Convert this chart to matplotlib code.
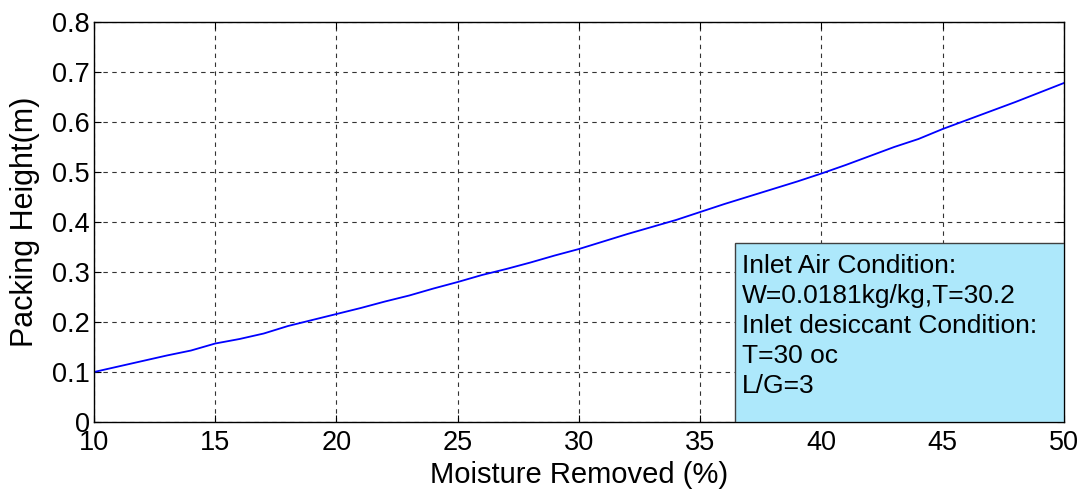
import numpy as np
import matplotlib.pyplot as plt
from matplotlib.patches import Rectangle

# data
moisture = [10, 11, 12, 13, 14, 15, 16, 17, 18, 19, 20, 21, 22, 23, 24, 25, 26, 27, 28, 29, 30,
            31, 32, 33, 34, 35, 36, 37, 38, 39, 40, 41, 42, 43, 44, 45, 46, 47, 48, 49, 50]
height = [0.100, 0.111, 0.122, 0.133, 0.143, 0.157, 0.166, 0.177, 0.192, 0.204, 0.216,
          0.228, 0.241, 0.253, 0.267, 0.280, 0.294, 0.306, 0.319, 0.333, 0.346,
          0.361, 0.376, 0.390, 0.404, 0.420, 0.436, 0.451, 0.466, 0.481, 0.497,
          0.514, 0.532, 0.550, 0.566, 0.586, 0.604, 0.622, 0.640, 0.659, 0.678]

xticks = [10, 15, 20, 25, 30, 35, 40, 45, 50]
yticks = [0, 0.1, 0.2, 0.3, 0.4, 0.5, 0.6, 0.7, 0.8]
box_lines = ["Inlet Air Condition:", "W=0.0181kg/kg,T=30.2",
             "Inlet desiccant Condition:", "T=30 oc", "L/G=3"]

plt.rcParams['font.family'] = ['Liberation Sans', 'DejaVu Sans']

fig = plt.figure(figsize=(10.84, 4.94), dpi=100)
ax = fig.add_axes([0.0867, 0.1457, 0.8948, 0.8098])

ax.plot(moisture, height, color='#0000ff', linewidth=1.3)

ax.set_xlim(10, 50)
ax.set_ylim(0, 0.8)
ax.set_xticks(xticks)
ax.set_yticks(yticks)
ax.set_yticklabels(['0', '0.1', '0.2', '0.3', '0.4', '0.5', '0.6', '0.7', '0.8'])
ax.tick_params(direction='in', length=5, labelsize=19.5, top=True, right=True, width=0.8)
ax.tick_params(axis='x', pad=6)
ax.tick_params(axis='y', pad=3)
ax.grid(True, color='0.2', linestyle=(0, (4, 4)), linewidth=0.8)
for s in ax.spines.values():
    s.set_linewidth(1.0)

ax.set_xlabel("Moisture Removed (%)", fontsize=21, labelpad=3)
ax.set_ylabel("Packing Height(m)", fontsize=22, labelpad=0)
ax.yaxis.set_label_coords(-0.056, 0.5)

# text box in the lower right corner
rect = Rectangle((0.661, 0.0), 0.339, 0.4475, transform=ax.transAxes,
                 facecolor='#ade8fb', edgecolor='0.25', linewidth=1.0, zorder=5)
ax.add_patch(rect)
ax.text(0.668, 0.42, "\n".join(box_lines), transform=ax.transAxes, fontsize=19,
        va='top', ha='left', linespacing=1.31, zorder=6)

plt.savefig("out.png", dpi=100)
